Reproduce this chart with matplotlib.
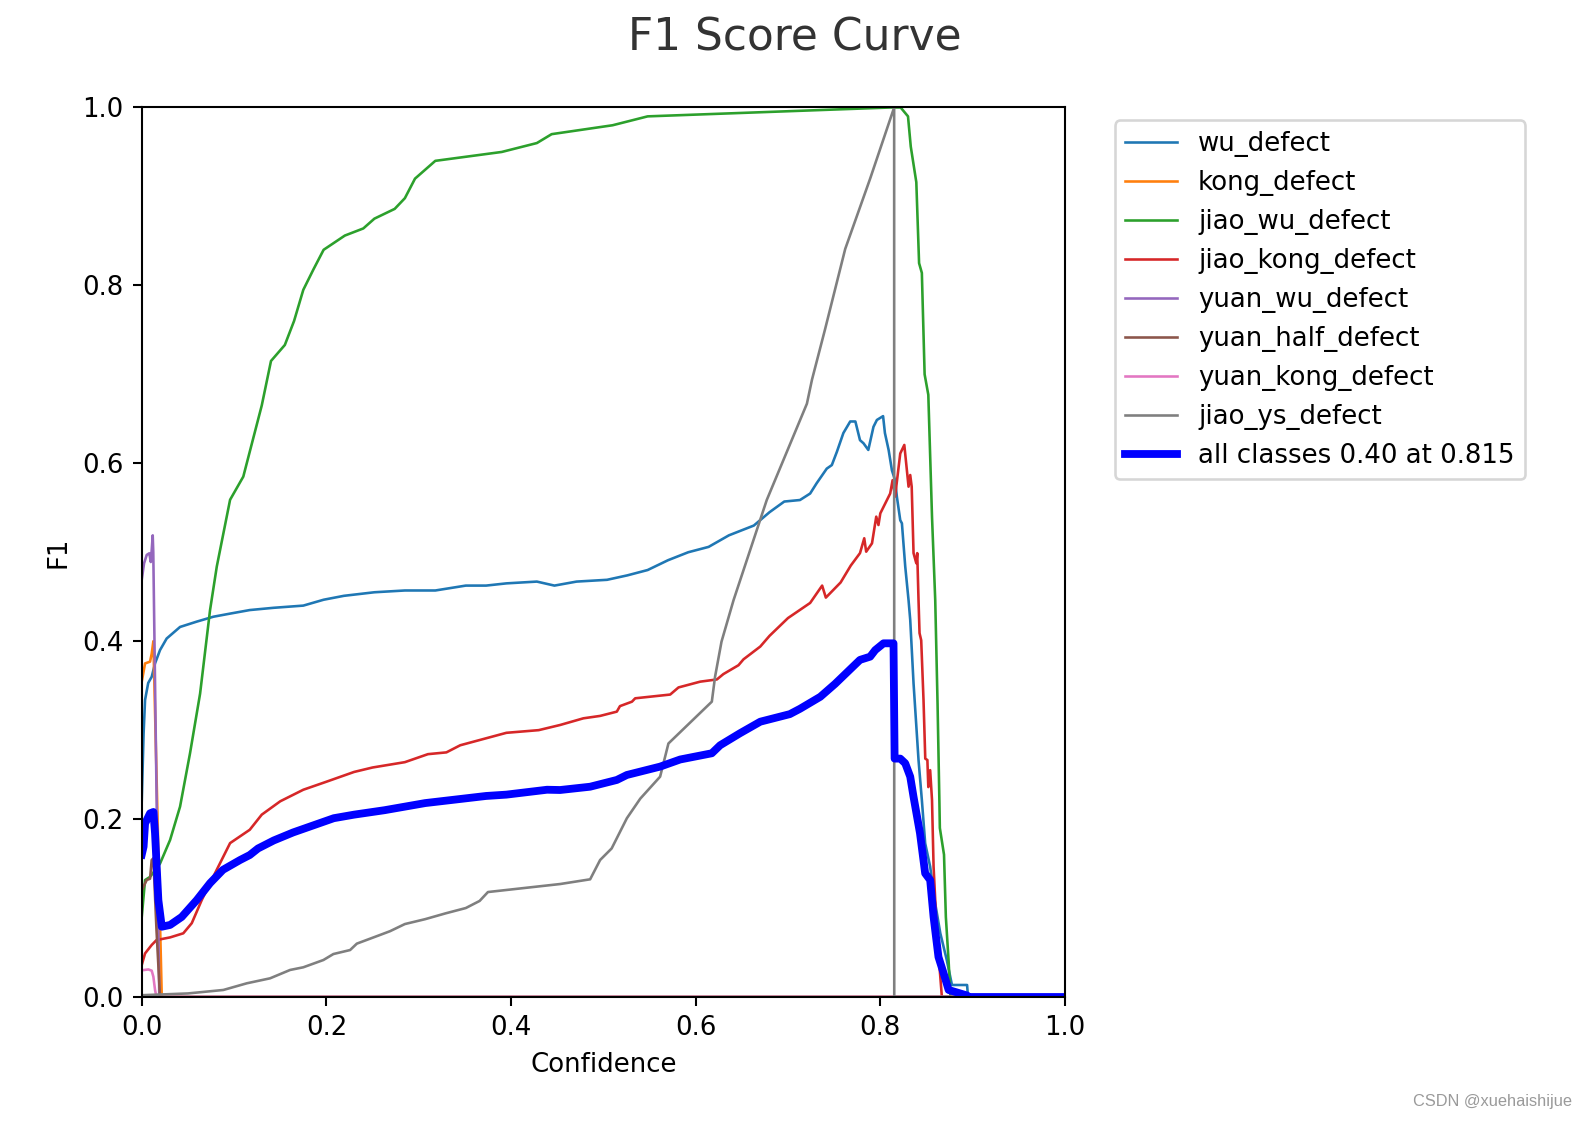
import matplotlib
matplotlib.use("Agg")
import matplotlib.pyplot as plt

# ---------------- data (confidence, F1) ----------------
class_names = ["wu_defect", "kong_defect", "jiao_wu_defect", "jiao_kong_defect",
               "yuan_wu_defect", "yuan_half_defect", "yuan_kong_defect", "jiao_ys_defect"]

wu_c = [0, 0.002, 0.0036, 0.007, 0.0108, 0.0144, 0.0198, 0.027, 0.0415, 0.0596, 0.0776, 0.0957,
        0.117, 0.1425, 0.175, 0.197, 0.219, 0.252, 0.285, 0.318, 0.351, 0.373, 0.395, 0.428,
        0.447, 0.471, 0.504, 0.526, 0.548, 0.57, 0.592, 0.614, 0.636, 0.663, 0.68, 0.696, 0.713,
        0.724, 0.731, 0.742, 0.7475, 0.753, 0.760, 0.7674, 0.773, 0.778, 0.7818, 0.787, 0.7926,
        0.7963, 0.803, 0.805, 0.809, 0.8126, 0.816, 0.818, 0.8216, 0.8234, 0.827, 0.8306, 0.8324,
        0.836, 0.8414, 0.845, 0.8486, 0.854, 0.8595, 0.865, 0.872, 0.8776, 0.894, 0.895, 1.0]
wu_f = [0.22, 0.296, 0.334, 0.353, 0.36, 0.375, 0.39, 0.403, 0.416, 0.422, 0.4275, 0.431,
        0.435, 0.4375, 0.44, 0.4466, 0.451, 0.455, 0.457, 0.457, 0.4625, 0.4625, 0.465, 0.467,
        0.4625, 0.467, 0.469, 0.474, 0.48, 0.491, 0.5, 0.506, 0.519, 0.53, 0.545, 0.557, 0.5587,
        0.566, 0.5775, 0.594, 0.598, 0.613, 0.634, 0.647, 0.647, 0.626, 0.6225, 0.615, 0.641,
        0.6487, 0.653, 0.634, 0.615, 0.592, 0.581, 0.562, 0.536, 0.5325, 0.484, 0.446, 0.424,
        0.3527, 0.2664, 0.2215, 0.1728, 0.1465, 0.105, 0.0716, 0.0416, 0.0135, 0.0135, 0.0, 0.0]

kong_c = [0, 0.0036, 0.009, 0.0108, 0.0126, 0.0217, 1.0]
kong_f = [0.3545, 0.375, 0.377, 0.386, 0.40, 0.0, 0.0]

jiao_wu_c = [0, 0.0036, 0.009, 0.0198, 0.0307, 0.0415, 0.0523, 0.0632, 0.074, 0.0813, 0.0957,
             0.11, 0.12, 0.13, 0.14, 0.155, 0.165, 0.175, 0.186, 0.197, 0.22, 0.24, 0.252, 0.274,
             0.285, 0.296, 0.318, 0.39, 0.428, 0.444, 0.51, 0.548, 0.8115, 0.822, 0.830, 0.833,
             0.839, 0.842, 0.845, 0.848, 0.852, 0.856, 0.8595, 0.862, 0.864, 0.8645, 0.869, 0.871,
             0.874, 0.876, 1.0]
jiao_wu_f = [0.09, 0.1315, 0.135, 0.150, 0.1765, 0.214, 0.274, 0.341, 0.435, 0.484, 0.559,
             0.585, 0.625, 0.665, 0.715, 0.733, 0.76, 0.795, 0.818, 0.84, 0.856, 0.864, 0.875, 0.886,
             0.898, 0.92, 0.94, 0.95, 0.96, 0.97, 0.98, 0.99, 1.0, 1.0, 0.99, 0.956,
             0.916, 0.825, 0.814, 0.70, 0.677, 0.54, 0.446, 0.33, 0.22, 0.19, 0.16, 0.09,
             0.04, 0.0, 0.0]

jiao_kong_c = [0, 0.0036, 0.0108, 0.016, 0.0307, 0.045, 0.0542, 0.0596, 0.065, 0.074, 0.0957,
               0.117, 0.13, 0.15, 0.175, 0.2, 0.23, 0.25, 0.285, 0.31, 0.33, 0.345, 0.37, 0.395,
               0.43, 0.4532, 0.4784, 0.4965, 0.5146, 0.518, 0.531, 0.5345, 0.5724, 0.5814, 0.6049,
               0.623, 0.630, 0.6464, 0.6518, 0.67, 0.68, 0.70, 0.724, 0.737, 0.741, 0.757, 0.768,
               0.778, 0.7826, 0.7847, 0.791, 0.7956, 0.798, 0.80, 0.8107, 0.8133, 0.816, 0.8216,
               0.826, 0.8306, 0.8324, 0.834, 0.836, 0.839, 0.840, 0.8414, 0.8425, 0.8443, 0.8468,
               0.8487, 0.851, 0.852, 0.854, 0.856, 0.8577, 0.8613, 0.8667, 1.0]
jiao_kong_f = [0.036, 0.049, 0.0585, 0.064, 0.067, 0.0716, 0.083, 0.096, 0.109, 0.128, 0.173,
               0.188, 0.205, 0.22, 0.233, 0.242, 0.253, 0.258, 0.264, 0.273, 0.275, 0.283, 0.29,
               0.297, 0.30, 0.3058, 0.3133, 0.316, 0.3208, 0.327, 0.332, 0.3358, 0.340, 0.348,
               0.3545, 0.357, 0.363, 0.373, 0.3796, 0.394, 0.406, 0.426, 0.443, 0.4625, 0.449,
               0.466, 0.485, 0.499, 0.5157, 0.5006, 0.510, 0.540, 0.5306, 0.5437, 0.566, 0.581,
               0.5625, 0.611, 0.6206, 0.5737, 0.5868, 0.5737, 0.499, 0.4876, 0.499, 0.446, 0.409,
               0.401, 0.334, 0.268, 0.2664, 0.236, 0.255, 0.2215, 0.1465, 0.0716, 0.0, 0.0]

yuan_wu_c = [0, 0.0025, 0.0054, 0.0082, 0.0098, 0.0108, 0.0119, 0.0125, 0.019, 1.0]
yuan_wu_f = [0.469, 0.4875, 0.497, 0.4988, 0.489, 0.5025, 0.519, 0.50, 0.0, 0.0]

yuan_half_c = [0, 0.0054, 0.009, 0.0108, 0.0126, 0.016, 0.0198, 1.0]
yuan_half_f = [0.12, 0.1315, 0.133, 0.154, 0.156, 0.075, 0.0, 0.0]

yuan_kong_c = [0, 0.0072, 0.0108, 0.0126, 0.0144, 0.016, 1.0]
yuan_kong_f = [0.030, 0.031, 0.0296, 0.0228, 0.008, 0.0, 0.0]

jiao_ys_c = [0, 0.05, 0.0884, 0.1138, 0.139, 0.1607, 0.175, 0.1968, 0.2076, 0.2257, 0.233,
             0.258, 0.269, 0.285, 0.307, 0.329, 0.351, 0.366, 0.375, 0.4532, 0.4857, 0.4965,
             0.509, 0.5255, 0.54, 0.5615, 0.5705, 0.6175, 0.621, 0.628, 0.641, 0.677, 0.7205,
             0.726, 0.74, 0.762, 0.789, 0.815, 0.8151, 1.0]
jiao_ys_f = [0.002, 0.004, 0.0079, 0.0154, 0.021, 0.0304, 0.0334, 0.0416, 0.0483, 0.0528, 0.060,
             0.0697, 0.074, 0.082, 0.0875, 0.094, 0.1, 0.108, 0.118, 0.127, 0.1323, 0.154,
             0.167, 0.201, 0.223, 0.2477, 0.285, 0.332, 0.360, 0.3995, 0.446, 0.5587, 0.667,
             0.694, 0.75, 0.841, 0.92, 1.0, 0.0, 0.0]

all_c = [0, 0.002, 0.0036, 0.009, 0.0126, 0.0144, 0.018, 0.0217, 0.0307, 0.0433, 0.0596, 0.074,
         0.088, 0.1065, 0.117, 0.126, 0.143, 0.164, 0.186, 0.208, 0.23, 0.263, 0.285, 0.307, 0.34,
         0.373, 0.395, 0.439, 0.4532, 0.4857, 0.5146, 0.5255, 0.5615, 0.5832, 0.6175, 0.6265,
         0.648, 0.67, 0.702, 0.713, 0.735, 0.751, 0.768, 0.778, 0.789, 0.7945, 0.8035, 0.8143,
         0.8155, 0.8216, 0.827, 0.8324, 0.836, 0.843, 0.8486, 0.854, 0.8577, 0.863, 0.8686, 0.874,
         0.894, 0.895, 1.0]
all_f = [0.16, 0.169, 0.195, 0.2065, 0.208, 0.184, 0.109, 0.079, 0.081, 0.090, 0.109, 0.128,
         0.143, 0.154, 0.1596, 0.167, 0.176, 0.185, 0.193, 0.201, 0.205, 0.21, 0.214, 0.218, 0.222,
         0.226, 0.2275, 0.233, 0.2327, 0.2364, 0.244, 0.2496, 0.259, 0.267, 0.274, 0.283,
         0.2965, 0.3095, 0.318, 0.324, 0.3375, 0.352, 0.369, 0.379, 0.3826, 0.39, 0.3976, 0.3976,
         0.268, 0.268, 0.2627, 0.2477, 0.225, 0.184, 0.139, 0.1315, 0.090, 0.045, 0.0266, 0.0079,
         0.0017, 0.0, 0.0]
all_label = "all classes 0.40 at 0.815"

series = [(wu_c, wu_f), (kong_c, kong_f), (jiao_wu_c, jiao_wu_f), (jiao_kong_c, jiao_kong_f),
          (yuan_wu_c, yuan_wu_f), (yuan_half_c, yuan_half_f), (yuan_kong_c, yuan_kong_f),
          (jiao_ys_c, jiao_ys_f)]

# ---------------- figure ----------------
DPI = 187.275
fig = plt.figure(figsize=(1589 / DPI, 1123 / DPI), dpi=DPI)
ax = fig.add_axes([0.0892, 0.1122, 0.6702 - 0.0892, 0.9043 - 0.1122])

for i, (name, (cx, fy)) in enumerate(zip(class_names, series)):
    ax.plot(cx, fy, linewidth=1, color=f"C{i}", label=name)
ax.plot(all_c, all_f, linewidth=3, color="blue", label=all_label)

ax.set_xlim(0, 1)
ax.set_ylim(0, 1)
ax.set_xlabel("Confidence")
ax.set_ylabel("F1")
ax.legend(bbox_to_anchor=(1.04, 1), loc="upper left")

fig.suptitle("F1 Score Curve", fontsize=16.9, color="#333333", y=0.966, va="center")
fig.text(0.9893, 0.0187, "CSDN @xuehaishijue", ha="right", va="center",
         fontsize=6.3, color="#9a9a9a", family="Liberation Sans")

fig.savefig("out.png", dpi=DPI)
